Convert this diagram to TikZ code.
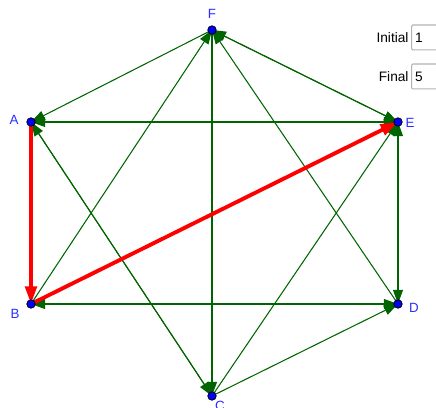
\documentclass[tikz,border=0pt]{standalone}
\usepackage{fontspec}
\setmainfont{Liberation Sans}
\usetikzlibrary{arrows.meta,backgrounds,positioning}
\definecolor{arcgreen}{RGB}{0,100,0}
\definecolor{ptblue}{RGB}{0,0,255}
\definecolor{lblblue}{RGB}{45,45,255}
\tikzset{  vtx/.style={circle,draw=black,fill=ptblue,inner sep=0pt,minimum size=4.8pt,line width=0.45pt} }
\tikzset{  lbl/.style={text=lblblue,font=\fontsize{7.6}{9}\selectfont,inner sep=0pt} }
\tikzset{  arc/.style={draw=arcgreen,line width=0.6pt,-{Triangle[length=8pt,width=5.6pt]}} }
\tikzset{  route/.style={draw=red,line width=2.2pt,-{Triangle[length=10pt,width=6.5pt]}} }
\tikzset{  inbox/.style={draw=black!30,rounded corners=0.8pt,line width=0.6pt,text width=14pt,inner xsep=2pt,minimum height=14.2pt,anchor=west,font=\fontsize{7.8}{9}\selectfont} }

\begin{document}
\begin{tikzpicture}[x=0.02cm,y=-0.02cm]
   \useasboundingbox (0,0) rectangle (436,408);
   \clip (0,0) rectangle (436,408);
   % vertices of the hexagon
   \node[vtx] (A) at (31,122)  {};
   \node[vtx] (B) at (31,304)  {};
   \node[vtx] (C) at (212,396) {};
   \node[vtx] (D) at (398,304) {};
   \node[vtx] (E) at (398,122) {};
   \node[vtx] (F) at (212,30)  {};
   \node[lbl] (lA) at (14,120)  {A};
   \node[lbl] (lB) at (15,314)  {B};
   \node[lbl] (lC) at (220,406) {C};
   \node[lbl] (lD) at (414,308) {D};
   \node[lbl] (lE) at (410,123) {E};
   \node[lbl] (lF) at (212,14)  {F};
   \begin{scope}[on background layer]
   \draw[arc] (F.center) -- (A.center);
   \draw[arc] (E.center) -- (A.center);
   \draw[arc] (C.center) -- (A.center);
   \draw[arc] (A.center) -- (C.center);
   \draw[arc] (A.center) -- (E.center);
   \draw[arc] (B.center) -- (F.center);
   \draw[arc] (F.center) -- (C.center);
   \draw[arc] (F.center) -- (E.center);
   \draw[arc] (E.center) -- (F.center);
   \draw[arc] (D.center) -- (F.center);
   \draw[arc] (D.center) -- (E.center);
   \draw[arc] (E.center) -- (D.center);
   \draw[arc] (C.center) -- (E.center);
   \draw[arc] (C.center) -- (D.center);
   \draw[arc] (B.center) -- (D.center);
   \draw[arc] (D.center) -- (B.center);
   % the chosen route
   \draw[route] (A.center) -- (B.center);
   \draw[route] (B.center) -- (E.center);
   \end{scope}
   % input boxes
   \node[inbox] (initval) at (411,37.5) {1};
   \node[inbox] (finval) at (411,76.5) {5};
   \node[font=\fontsize{7.8}{9}\selectfont,inner sep=0pt,left=1.2pt of initval] (initlbl) {Initial};
   \node[font=\fontsize{7.8}{9}\selectfont,inner sep=0pt,left=1.2pt of finval] (finlbl) {Final};
\end{tikzpicture}
\end{document}
